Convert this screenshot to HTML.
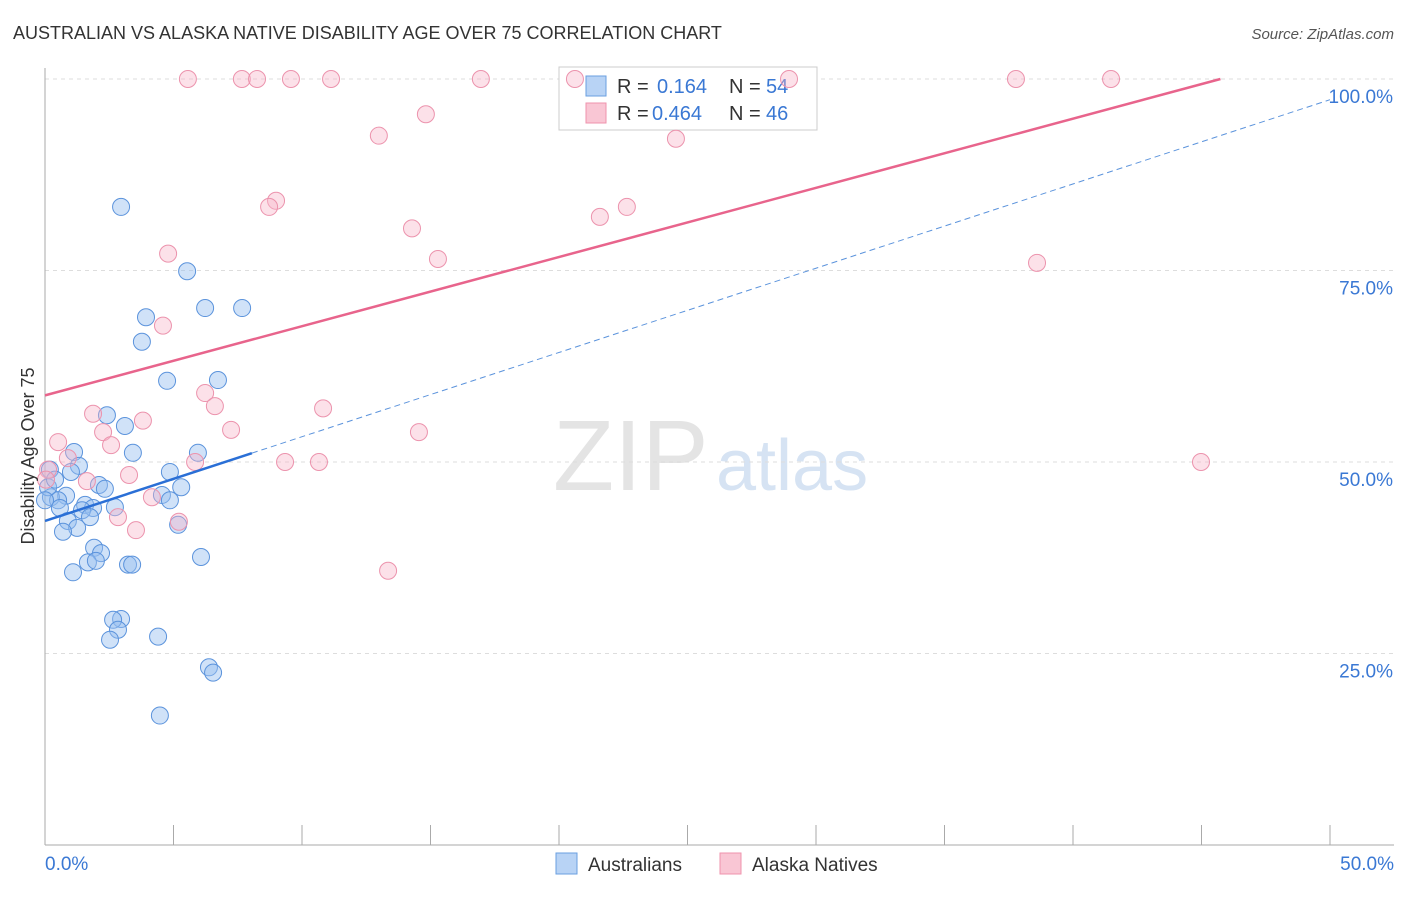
<!DOCTYPE html>
<html><head><meta charset="utf-8"><style>
body{margin:0;background:#fff;font-family:"Liberation Sans",sans-serif}
svg text{font-family:"Liberation Sans",sans-serif}
</style></head><body>
<svg width="1406" height="892">
<text x="13" y="39" font-size="18" fill="#333">AUSTRALIAN VS ALASKA NATIVE DISABILITY AGE OVER 75 CORRELATION CHART</text>
<text x="1394" y="39" font-size="15" fill="#555" font-style="italic" text-anchor="end">Source: ZipAtlas.com</text>
<text x="553" y="490" font-size="100" fill="#e4e4e4" font-family="Liberation Serif">ZIP</text>
<text x="716" y="490" font-size="72" fill="#d6e3f3">atlas</text>
<g id="grid"></g>
<g id="axes"></g>
<g>
<rect x="559" y="67" width="258" height="63" fill="#fff" stroke="#ccc"/>
<rect x="586" y="76" width="20" height="20" fill="#b8d3f5" stroke="#6a9fe0"/>
<rect x="586" y="103" width="20" height="20" fill="#f9c6d4" stroke="#ef93ad"/>
<text x="617" y="93" font-size="20" fill="#333">R =</text>
<text x="657" y="93" font-size="20" fill="#3a78d4">0.164</text>
<text x="729" y="93" font-size="20" fill="#333">N =</text>
<text x="766" y="93" font-size="20" fill="#3a78d4">54</text>
<text x="617" y="120" font-size="20" fill="#333">R =</text>
<text x="652" y="120" font-size="20" fill="#3a78d4">0.464</text>
<text x="729" y="120" font-size="20" fill="#333">N =</text>
<text x="766" y="120" font-size="20" fill="#3a78d4">46</text>
</g>
<g id="marks"></g>
<text transform="translate(34,456) rotate(-90)" font-size="18" fill="#333" text-anchor="middle">Disability Age Over 75</text>
<g>
<rect x="556" y="853" width="21" height="21" fill="#b8d3f5" stroke="#6a9fe0"/>
<text x="588" y="871" font-size="19" fill="#333">Australians</text>
<rect x="720" y="853" width="21" height="21" fill="#f9c6d4" stroke="#ef93ad"/>
<text x="752" y="871" font-size="19" fill="#333">Alaska Natives</text>
</g>
</svg>
<script>
const blueX=[2.96,5.53,3.93,6.23,7.67,3.77,4.75,6.73,2.41,3.11,3.42,5.95,1.13,1.32,4.86,0.19,1.01,5.3,2.1,2.33,4.55,0.82,0.23,0.51,1.56,1.87,2.72,0.58,1.44,1.75,0.89,1.25,0.7,5.18,1.91,2.18,1.67,1.98,3.23,3.39,6.07,1.09,2.96,2.65,2.84,2.53,4.4,6.38,6.54,4.47,0.12,0.39,0.0,4.86];
const blueY=[83.3,74.9,68.9,70.1,70.1,65.7,60.6,60.7,56.1,54.7,51.2,51.2,51.3,49.5,48.7,49.0,48.7,46.7,47.0,46.5,45.7,45.6,45.4,45.0,44.4,44.0,44.1,44.0,43.7,42.8,42.3,41.4,40.9,41.8,38.8,38.1,36.9,37.1,36.6,36.6,37.6,35.6,29.5,29.4,28.1,26.8,27.2,23.2,22.5,16.9,46.7,47.7,45.0,45.0];
const pinkX=[5.56,7.66,8.25,9.57,11.13,16.96,20.62,28.95,37.78,41.48,14.82,12.99,24.55,8.99,8.72,21.59,22.64,14.28,15.29,4.79,4.59,38.6,6.23,6.61,1.87,3.81,10.82,2.26,7.24,14.55,0.51,2.57,0.89,5.84,9.34,10.66,44.98,3.27,1.63,4.16,2.84,5.21,3.54,13.35,0.12,0.04];
const pinkY=[100,100,100,100,100,100,100,100,100,100,95.4,92.6,92.2,84.1,83.3,82.0,83.3,80.5,76.5,77.2,67.8,76.0,59.0,57.3,56.3,55.4,57.0,53.9,54.2,53.9,52.6,52.2,50.5,50.0,50.0,50.0,50.0,48.3,47.5,45.4,42.8,42.2,41.1,35.8,49.0,47.7];
const blueTrend=[42.3,1.1]; // intercept, slope
const pinkTrend=[58.7,0.903];
const yTicks=[25,50,75,100];
const yTickLabels=["25.0%","50.0%","75.0%","100.0%"];
const xTickLabels=["0.0%","50.0%"];
const X=v=>45+v/50*1285, Y=v=>845-v/100*766;
const NS="http://www.w3.org/2000/svg";
function mk(p,t,a){const e=document.createElementNS(NS,t);for(const k in a)e.setAttribute(k,a[k]);p.appendChild(e);return e;}
const grid=document.getElementById('grid'),axes=document.getElementById('axes'),marks=document.getElementById('marks');
yTicks.forEach((v,i)=>{
 const l=mk(grid,'line',{x1:45,x2:1394,y1:Y(v),y2:Y(v),stroke:'#ddd','stroke-dasharray':'4,4'});
 
 
 const t=mk(axes,'text',{x:1393,y:Y(v)+24,'font-size':19,fill:'#3a78d4','text-anchor':'end'});t.textContent=yTickLabels[i];
 
 
});
mk(axes,'line',{x1:45,x2:45,y1:68,y2:845,stroke:'#aaa'});
mk(axes,'line',{x1:45,x2:1394,y1:845,y2:845,stroke:'#aaa'});
for(let i=0;i<=10;i++){const x=X(i*5);const tk=mk(axes,'line',{x1:x,x2:x,y1:825,y2:845,stroke:'#aaa'});
 
 }
[[0,'start',45],[50,'end',1394]].forEach((d,i)=>{const t=mk(axes,'text',{x:d[2],y:870,'font-size':19,fill:'#3a78d4','text-anchor':d[1]});t.textContent=xTickLabels[i];
 
 });
blueX.forEach((x,i)=>{const c=mk(marks,'circle',{cx:X(x),cy:Y(blueY[i]),r:8.5,fill:'rgba(150,190,240,0.45)',stroke:'#5b93dc','stroke-width':1});
 
 });
pinkX.forEach((x,i)=>{const c=mk(marks,'circle',{cx:X(x),cy:Y(pinkY[i]),r:8.5,fill:'rgba(248,180,200,0.4)',stroke:'#ec93ad','stroke-width':1});
 
 });
const pxEnd=(100-pinkTrend[0])/pinkTrend[1];
const pl=mk(marks,'line',{x1:X(0),y1:Y(pinkTrend[0]),x2:X(pxEnd),y2:Y(100),stroke:'#e8648c','stroke-width':2.5});


const bs=mk(marks,'line',{x1:X(0),y1:Y(blueTrend[0]),x2:X(8.05),y2:Y(blueTrend[0]+blueTrend[1]*8.05),stroke:'#2a6fd6','stroke-width':2.5});


const bd=mk(marks,'line',{x1:X(8.05),y1:Y(blueTrend[0]+blueTrend[1]*8.05),x2:X(50),y2:Y(blueTrend[0]+blueTrend[1]*50),stroke:'#5b93dc','stroke-width':1,'stroke-dasharray':'6,4'});


</script>
</body></html>
